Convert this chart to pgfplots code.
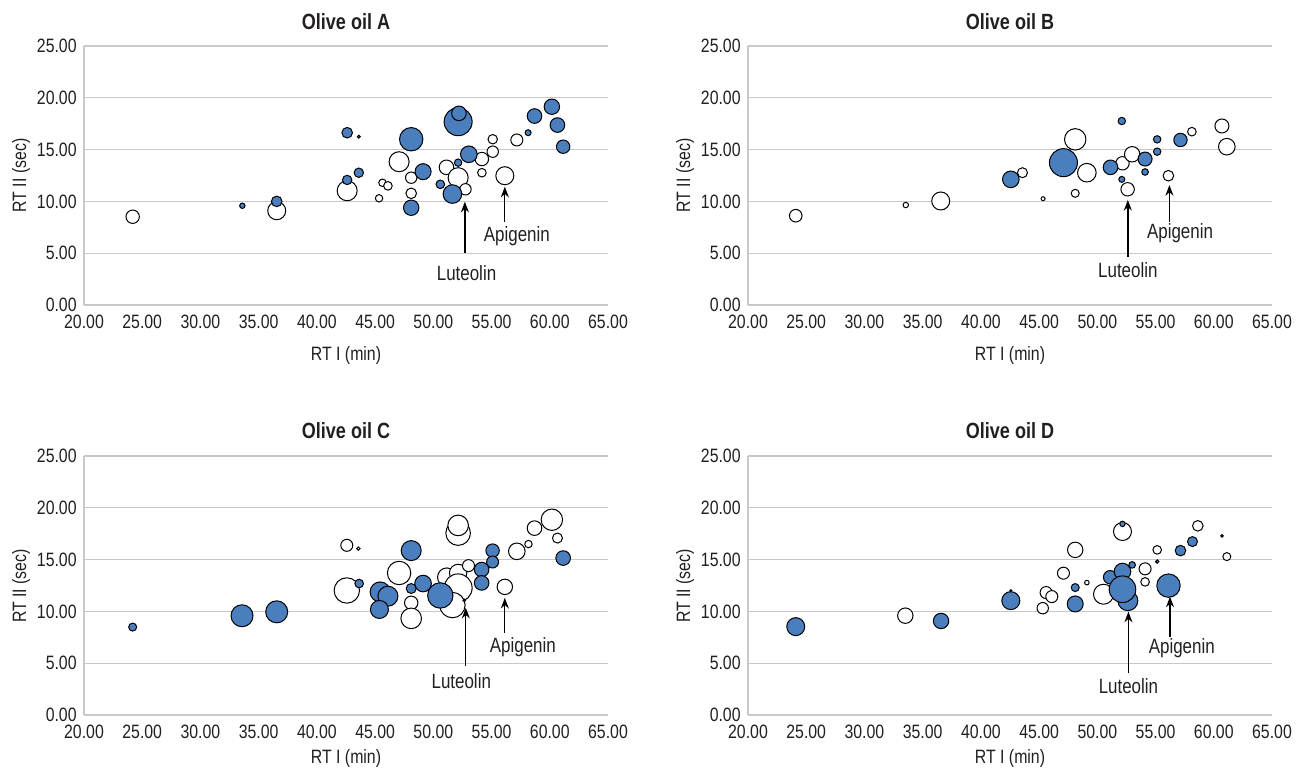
\documentclass[border=0pt]{standalone}
\usepackage{fontspec}
\setmainfont{Liberation Sans}[FakeStretch=0.82]
\usepackage{pgfplots}
\usepackage{pgfplotstable}
\pgfplotsset{compat=1.18}
\usetikzlibrary{arrows.meta}

\definecolor{oilblue}{RGB}{74,126,189}
\definecolor{gridgray}{RGB}{200,200,200}
\definecolor{ink}{RGB}{35,31,32}

% bubble data: x = RT I (min), y = RT II (sec), r = bubble radius (px in the source)
\pgfplotstableread{
x y r
24.18 8.52 6.7
36.55 9.10 9.0
42.60 11.03 10.0
45.34 10.30 3.7
45.63 11.80 3.7
46.10 11.50 4.3
47.06 13.83 10.0
48.10 12.29 5.7
48.10 10.78 5.3
51.13 13.29 7.3
54.17 14.09 6.7
55.10 14.80 5.7
55.10 16.00 4.7
54.17 12.77 4.3
52.13 12.29 10.0
52.76 11.17 5.7
56.14 12.48 9.0
57.17 15.93 6.0
}\Awhite
\pgfplotstableread{
x y r
33.60 9.58 2.7
36.55 10.00 5.3
42.60 16.63 5.3
43.60 16.25 1.5
43.60 12.77 4.7
42.60 12.07 4.7
48.10 16.00 11.7
49.12 12.87 8.0
48.10 9.39 7.7
52.13 13.74 3.7
53.05 14.55 8.3
50.60 11.65 4.3
51.64 10.71 9.3
52.13 17.69 14.0
52.20 18.50 7.3
58.14 16.63 3.0
58.69 18.24 7.3
60.18 19.14 7.7
60.66 17.37 7.3
61.15 15.28 6.7
}\Ablue
\pgfplotstableread{
x y r
24.10 8.62 6.3
33.55 9.65 2.7
36.55 10.04 9.0
43.57 12.77 5.0
45.34 10.26 2.0
48.10 15.99 10.7
48.10 10.78 4.0
49.10 12.77 9.3
52.16 13.68 6.7
52.99 14.55 7.7
52.60 11.17 6.7
56.10 12.48 5.3
58.12 16.73 4.3
60.70 17.28 7.0
61.12 15.28 8.3
}\Bwhite
\pgfplotstableread{
x y r
42.57 12.13 8.3
47.09 13.74 14.0
51.13 13.29 7.3
54.10 14.09 7.0
52.10 17.76 3.7
52.10 12.13 3.0
54.10 12.84 3.3
55.14 15.99 3.7
55.14 14.80 3.7
57.14 15.93 6.7
}\Bblue
\pgfplotstableread{
x y r
42.57 16.38 6.0
43.57 16.06 1.7
42.57 12.02 12.7
47.06 13.71 11.7
48.10 10.83 6.7
48.10 9.33 10.3
51.16 13.30 9.3
52.13 13.71 8.7
52.13 12.27 14.0
51.64 10.61 12.7
53.02 14.42 6.0
56.14 12.37 7.7
57.17 15.80 8.3
58.17 16.50 3.7
58.69 18.04 7.3
60.18 18.85 10.7
60.66 17.08 5.0
52.13 17.56 12.3
52.13 18.30 10.3
}\Cwhite
\pgfplotstableread{
x y r
24.18 8.49 4.0
33.57 9.58 11.0
36.55 9.96 11.0
43.63 12.69 4.3
48.10 15.87 10.0
49.12 12.69 8.3
48.10 12.21 5.0
45.43 11.88 10.0
46.10 11.47 10.0
45.37 10.19 9.0
50.60 11.54 12.7
52.65 11.06 1.3
54.15 14.04 7.3
54.15 12.75 7.3
55.09 15.87 6.7
55.09 14.77 6.0
61.15 15.15 7.3
}\Cblue
\pgfplotstableread{
x y r
33.51 9.59 7.7
45.60 11.82 6.0
46.09 11.43 6.0
45.31 10.31 5.7
47.09 13.69 6.0
48.10 15.94 7.7
49.10 12.78 2.3
50.53 11.66 10.0
52.16 17.71 9.0
54.10 14.11 6.0
54.10 12.85 4.3
55.14 15.94 4.3
58.63 18.26 5.3
61.12 15.29 4.0
}\Dwhite
\pgfplotstableread{
x y r
24.10 8.53 9.0
36.58 9.08 7.7
42.57 11.04 9.0
42.57 12.00 1.0
48.10 12.30 4.0
48.10 10.72 8.0
51.10 13.30 6.7
52.16 13.85 8.3
52.62 11.04 10.0
52.16 12.14 13.3
52.16 18.45 2.7
52.99 14.49 3.3
55.14 14.81 1.7
56.11 12.49 11.7
57.14 15.87 5.3
58.17 16.74 5.0
60.70 17.29 1.3
}\Dblue

\newcommand{\tickfont}{\fontsize{14.5}{16}\selectfont}
\newcommand{\notefont}{\fontsize{15.5}{17}\selectfont}
\newcommand{\titlefont}{\fontsize{16.5}{19}\selectfont\bfseries}

\pgfplotsset{
  panel/.style={
    scale only axis, width=393pt, height=194.25pt,
    anchor=south west,
    xmin=20, xmax=65, ymin=0, ymax=25,
    xtick={20,25,...,65}, ytick={0,5,...,25},
    axis x line=bottom, axis y line=left,
    axis line style={-, draw=gridgray, line width=0.9pt},
    ymajorgrids, grid style={gridgray, line width=0.9pt},
    major tick length=0pt,
    /pgf/number format/assume math mode=true,
    ticklabel style={font=\tickfont, text=ink,
      /pgf/number format/fixed, /pgf/number format/fixed zerofill,
      /pgf/number format/precision=2},
    xticklabel style={yshift=-4pt},
    yticklabel style={xshift=-2pt},
  },
  bubble/.style={scatter, only marks, mark=*, line width=0.75pt,
    scatter/use mapped color={draw=black, fill=#1},
    visualization depends on={0.75*\thisrow{r} \as \rad},
    scatter/@pre marker code/.append style={/tikz/mark size=\rad}},
}
\tikzset{
  pointer/.style={-{Stealth[length=8pt,width=6pt]}, line width=1pt, black},
  note/.style={font=\notefont, text=ink},
}

\begin{document}
\begin{tikzpicture}
\path[use as bounding box] (0,0) rectangle (974.25pt,-576pt);

% Olive oil A
\begin{axis}[panel, at={(63pt,-228.75pt)}]
  \addplot[bubble=white] table {\Awhite};
  \addplot[bubble=oilblue] table {\Ablue};
  \draw[pointer] (axis cs:52.71,5.02) -- (axis cs:52.71,9.97);
  \node[note] at (axis cs:52.85,3.12) {Luteolin};
  \draw[pointer] (axis cs:56.14,8.04) -- (axis cs:56.14,11.42);
  \node[note] at (axis cs:57.17,6.66) {Apigenin};
\end{axis}

% Olive oil B
\begin{axis}[panel, at={(561pt,-228.75pt)}]
  \addplot[bubble=white] table {\Bwhite};
  \addplot[bubble=oilblue] table {\Bblue};
  \draw[pointer] (axis cs:52.62,4.66) -- (axis cs:52.62,10.14);
  \node[note] at (axis cs:52.62,3.38) {Luteolin};
  \draw[pointer] (axis cs:56.19,8.04) -- (axis cs:56.19,11.58);
  \node[note] at (axis cs:57.10,6.95) {Apigenin};
\end{axis}

% Olive oil C
\begin{axis}[panel, at={(63pt,-536.25pt)}]
  \addplot[bubble=white] table {\Cwhite};
  \addplot[bubble=oilblue] table {\Cblue};
  \draw[pointer] (axis cs:52.79,4.74) -- (axis cs:52.79,10.35);
  \node[note] at (axis cs:52.40,3.30) {Luteolin};
  \draw[pointer] (axis cs:56.14,7.94) -- (axis cs:56.14,11.31);
  \node[note] at (axis cs:57.69,6.57) {Apigenin};
\end{axis}

% Olive oil D
\begin{axis}[panel, at={(561pt,-536.25pt)}]
  \addplot[bubble=white] table {\Dwhite};
  \addplot[bubble=oilblue] table {\Dblue};
  \draw[pointer] (axis cs:52.67,4.03) -- (axis cs:52.67,9.98);
  \node[note] at (axis cs:52.67,2.83) {Luteolin};
  \draw[pointer] (axis cs:56.24,7.57) -- (axis cs:56.24,11.43);
  \node[note] at (axis cs:57.25,6.44) {Apigenin};
\end{axis}

% titles and axis labels
\foreach \px/\py/\t in {259.5/-16.5/A, 757.5/-16.5/B, 259.5/-323.25/C, 757.5/-323.25/D}
  \node[font=\titlefont, text=ink] at (\px pt,\py pt) {Olive oil \t};
\foreach \px/\py in {259.5/-266.25, 757.5/-266.25, 259.5/-568.5, 757.5/-568.5}
  \node[font=\tickfont, text=ink] at (\px pt,\py pt) {RT I (min)};
\foreach \px/\py in {15.75/-131.6, 513.75/-131.6, 15.75/-439.5, 513.75/-439.5}
  \node[font=\tickfont, text=ink, rotate=90] at (\px pt,\py pt) {RT II (sec)};
\end{tikzpicture}
\end{document}
